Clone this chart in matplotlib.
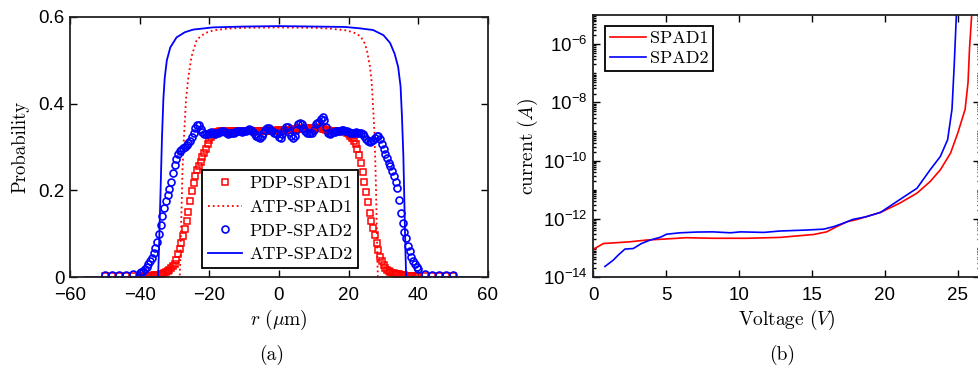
import numpy as np
import matplotlib
matplotlib.use('Agg')
import matplotlib.pyplot as plt
from matplotlib.ticker import LogLocator, NullFormatter

plt.rcParams['font.family'] = ['Liberation Sans', 'DejaVu Sans']
plt.rcParams['mathtext.fontset'] = 'cm'

# ---------- (a) radial probability profiles ----------
r_tail_l = [-50, -48, -46, -44, -42, -40]
r_tail_r = [40, 42, 44, 46, 48, 50]
r_scan = [x / 2 for x in range(-79, 80)]   # -39.5 .. 39.5, 0.5 um step
r_pdp = r_tail_l + r_scan + r_tail_r

pdp1_tail_l = [0.002, 0.002, 0.002, 0.002, 0.002, 0.002]
pdp1_tail_r = [0.003, 0.003, 0.003, 0.003, 0.003, 0.003]
pdp1_scan = [
    0.002, 0.002, 0.002, 0.003, 0.003, 0.003, 0.003, 0.004, 0.004,
    0.004, 0.005, 0.006, 0.007, 0.009, 0.011, 0.013, 0.016, 0.020, 0.025,
    0.031, 0.040, 0.052, 0.064, 0.078, 0.095, 0.110, 0.130, 0.150, 0.175,
    0.198, 0.218, 0.233, 0.246, 0.256, 0.266, 0.276, 0.286, 0.296, 0.306,
    0.316, 0.323, 0.328, 0.332,
    0.334, 0.335, 0.336, 0.337, 0.337, 0.336, 0.335, 0.335, 0.336, 0.337,
    0.337, 0.336, 0.335, 0.335, 0.336, 0.337, 0.338, 0.338, 0.337, 0.336,
    0.336, 0.337, 0.338, 0.338, 0.337, 0.336, 0.336, 0.337, 0.338, 0.339,
    0.339, 0.338, 0.337, 0.337, 0.338, 0.339, 0.339, 0.338, 0.338, 0.339,
    0.340, 0.340, 0.339, 0.339, 0.340, 0.341, 0.342, 0.343, 0.342, 0.341,
    0.341, 0.342, 0.343, 0.344, 0.343, 0.342, 0.342, 0.343, 0.344, 0.345,
    0.344, 0.342, 0.341, 0.340, 0.339, 0.338, 0.338, 0.338, 0.337, 0.337,
    0.337, 0.337, 0.336, 0.336, 0.335,
    0.333, 0.330, 0.326, 0.320, 0.314, 0.306, 0.296, 0.282, 0.263, 0.242,
    0.220, 0.196, 0.172, 0.148, 0.130, 0.113, 0.096, 0.078, 0.062, 0.047,
    0.036, 0.027, 0.021, 0.017, 0.014, 0.012, 0.010, 0.009, 0.008, 0.007,
    0.006, 0.005, 0.004, 0.004, 0.003, 0.003, 0.003, 0.003, 0.003, 0.003,
    0.003]
pdp1 = pdp1_tail_l + pdp1_scan + pdp1_tail_r

pdp2_tail_l = [0.004, 0.004, 0.004, 0.005, 0.006, 0.010]
pdp2_tail_r = [0.018, 0.008, 0.005, 0.004, 0.004, 0.004]
pdp2_scan = [
    0.012, 0.014, 0.018, 0.023, 0.029, 0.036, 0.045, 0.056, 0.067, 0.080,
    0.100, 0.120, 0.140, 0.160, 0.176, 0.190, 0.203, 0.220, 0.240, 0.258,
    0.273, 0.284, 0.290, 0.293, 0.297, 0.300, 0.305, 0.309, 0.314, 0.322,
    0.333, 0.344, 0.350, 0.350, 0.342, 0.335, 0.331,
    0.330, 0.331, 0.332, 0.334, 0.333, 0.331, 0.332, 0.333, 0.335, 0.336,
    0.336, 0.334, 0.332, 0.331, 0.333, 0.333, 0.332, 0.334, 0.336, 0.337,
    0.336, 0.335, 0.337, 0.338, 0.340, 0.341, 0.339, 0.334, 0.330, 0.326,
    0.322, 0.320, 0.325, 0.333, 0.340, 0.343, 0.343, 0.340, 0.336, 0.333,
    0.332, 0.330, 0.324, 0.321, 0.330, 0.340, 0.347, 0.345, 0.335, 0.325,
    0.320, 0.326, 0.340, 0.352, 0.356, 0.352, 0.343, 0.336, 0.333, 0.332,
    0.332, 0.333, 0.340, 0.352, 0.356, 0.358, 0.365, 0.370, 0.362, 0.345,
    0.333, 0.330, 0.332, 0.334, 0.335, 0.336, 0.337, 0.338, 0.340, 0.340,
    0.338,
    0.336, 0.334, 0.333, 0.332, 0.333, 0.334, 0.333, 0.332, 0.333, 0.331,
    0.325, 0.318, 0.313, 0.312, 0.314, 0.316, 0.320, 0.325, 0.326, 0.318,
    0.308, 0.296, 0.284, 0.274, 0.264, 0.255, 0.245, 0.234, 0.220, 0.205,
    0.178, 0.148, 0.125, 0.105, 0.090, 0.072, 0.059, 0.047, 0.037, 0.030,
    0.024]
pdp2 = pdp2_tail_l + pdp2_scan + pdp2_tail_r

atp1_r = [-55.5, -28.5, -28.3, -28.0, -27.7, -27.3, -26.7, -26.0, -25.1, -23.6,
          -21.2, -18.9, -15.0, -10.0, 0.0, 10.0, 15.0, 19.4, 21.5, 23.3,
          24.4, 25.2, 26.1, 26.6, 26.9, 27.4, 27.8, 28.1, 28.3, 28.4, 57.5]
atp1_p = [0, 0, 0.05, 0.15, 0.25, 0.32, 0.41, 0.463, 0.509, 0.548,
          0.563, 0.569, 0.573, 0.575, 0.576, 0.575, 0.573, 0.569, 0.564, 0.556,
          0.543, 0.525, 0.486, 0.45, 0.409, 0.332, 0.22, 0.10, 0.02, 0, 0]

atp2_r = [-55.7, -34.7, -34.4, -34.0, -33.6, -33.2, -32.8, -32.2, -31.2, -29.4,
          -27.0, -24.6, -19.0, -10.0, 0.0, 10.0, 19.0, 23.0, 27.0, 30.0,
          31.9, 33.2, 34.2, 34.9, 35.3, 35.7, 36.0, 36.3, 36.5, 57.5]
atp2_p = [0, 0, 0.08, 0.20, 0.32, 0.41, 0.46, 0.50, 0.53, 0.553,
          0.565, 0.571, 0.576, 0.578, 0.579, 0.578, 0.577, 0.574, 0.570, 0.558,
          0.540, 0.515, 0.485, 0.44, 0.37, 0.28, 0.17, 0.06, 0, 0]

# ---------- (b) I-V curves ----------
v1 = [0.0, 0.69, 2.5, 3.66, 4.8, 6.4, 8.2, 10.5, 12.8, 13.95, 15.1, 16.0, 16.7,
      17.4, 18.1, 19.7, 21.0, 22.2, 23.1, 23.8, 24.5, 25.0, 25.5, 25.7, 25.8, 25.95]
i1 = [8.9e-14, 1.41e-13, 1.62e-13, 1.86e-13, 2.0e-13, 2.24e-13, 2.14e-13, 2.14e-13,
      2.29e-13, 2.57e-13, 2.88e-13, 3.55e-13, 5.4e-13, 7.9e-13, 9.5e-13, 1.66e-12,
      3.4e-12, 7.6e-12, 1.9e-11, 4.8e-11, 1.8e-10, 8.9e-10, 5.8e-9, 4.8e-8, 6.8e-7, 1e-5]
v2 = [0.8, 1.37, 1.7, 2.17, 2.74, 3.3, 3.9, 4.57, 5.03, 5.95, 7.1, 8.2, 9.4, 10.1,
      11.7, 12.8, 14.6, 15.8, 16.5, 17.2, 17.8, 18.7, 19.7, 21.0, 22.2, 23.1, 23.8,
      24.3, 24.6, 24.75, 24.9]
i2 = [2.3e-14, 3.8e-14, 5.6e-14, 9.1e-14, 9.5e-14, 1.41e-13, 1.86e-13, 2.29e-13,
      2.95e-13, 3.3e-13, 3.5e-13, 3.55e-13, 3.3e-13, 3.55e-13, 3.4e-13, 3.8e-13,
      4.1e-13, 4.4e-13, 5.4e-13, 7.2e-13, 9.5e-13, 1.17e-12, 1.66e-12, 4.5e-12,
      1.12e-11, 4.8e-11, 1.38e-10, 5.2e-10, 5.8e-9, 1.8e-7, 1e-5]

cm = 'cmr10'
fig = plt.figure(figsize=(9.79, 3.67), dpi=100)

# panel (a)
ax1 = fig.add_axes([70 / 979, 90 / 367, 418 / 979, 260 / 367])
ax1.plot(r_pdp, pdp1, 's', ms=3.8, mfc='none', mec='#ff0000', mew=1.1, label='PDP-SPAD1')
ax1.plot(atp1_r, atp1_p, ':', color='#ff0000', lw=1.3, label='ATP-SPAD1')
ax1.plot(r_pdp, pdp2, 'o', ms=5, mfc='none', mec='#0000ff', mew=1.2, label='PDP-SPAD2')
ax1.plot(atp2_r, atp2_p, '-', color='#0000ff', lw=1.3, label='ATP-SPAD2')
ax1.set_xlim(-60, 60)
ax1.set_ylim(0, 0.6)
ax1.set_xticks([-60, -40, -20, 0, 20, 40, 60])
ax1.set_yticks([0, 0.2, 0.4, 0.6], ['0', '0.2', '0.4', '0.6'])
ax1.set_ylabel('Probability', family=cm, fontsize=13.5, labelpad=6)
ax1.set_xlabel(r'$r\ (\mu\mathrm{m})$', fontsize=14, labelpad=3)
leg1 = ax1.legend(loc='lower left', bbox_to_anchor=(0.316, 0.035), borderaxespad=0,
                  prop={'family': cm, 'size': 13}, numpoints=1, handlelength=1.9,
                  handletextpad=0.4, borderpad=0.3, labelspacing=0.45, fancybox=False,
                  framealpha=1, edgecolor='k')
leg1.get_frame().set_linewidth(1.3)

# panel (b)
ax2 = fig.add_axes([593.3 / 979, 90 / 367, 386.4 / 979, 262 / 367])
ax2.semilogy(v1, i1, '-', color='#ff0000', lw=1.2, label='SPAD1')
ax2.semilogy(v2, i2, '-', color='#0000ff', lw=1.2, label='SPAD2')
ax2.set_xlim(0, 26.5)
ax2.set_ylim(1e-14, 1e-5)
ax2.set_xticks([0, 5, 10, 15, 20, 25])
ax2.yaxis.set_major_locator(LogLocator(base=100, numticks=20))
ax2.yaxis.set_minor_locator(LogLocator(base=10, subs=np.arange(1, 10), numticks=200))
ax2.yaxis.set_minor_formatter(NullFormatter())
ax2.set_ylabel(r'$\mathrm{current}\ (A)$', fontsize=14, labelpad=2)
ax2.set_xlabel(r'$\mathrm{Voltage}\ (V)$', fontsize=14, labelpad=3)
leg2 = ax2.legend(loc='upper left', bbox_to_anchor=(0.031, 0.958), borderaxespad=0,
                  prop={'family': cm, 'size': 13}, handlelength=2.0, handletextpad=0.2,
                  borderpad=0.25, labelspacing=0.25, fancybox=False, framealpha=1,
                  edgecolor='k')
leg2.get_frame().set_linewidth(1.3)

for ax in (ax1, ax2):
    ax.tick_params(which='both', direction='in', top=True, right=True, labelsize=13.5,
                   width=1.0, colors='k')
    ax.tick_params(which='major', length=5)
    ax.tick_params(which='minor', length=2.5)
    ax.tick_params(axis='x', which='major', pad=7)
    ax.tick_params(axis='y', which='major', pad=4)
    for s in ax.spines.values():
        s.set_linewidth(1.3)
        s.set_color('#222222')

fig.text(272 / 979, 1 - 355 / 367, '(a)', family=cm, fontsize=14, ha='center', va='center')
fig.text(782 / 979, 1 - 355 / 367, '(b)', family=cm, fontsize=14, ha='center', va='center')

fig.savefig('out.png', dpi=100)
